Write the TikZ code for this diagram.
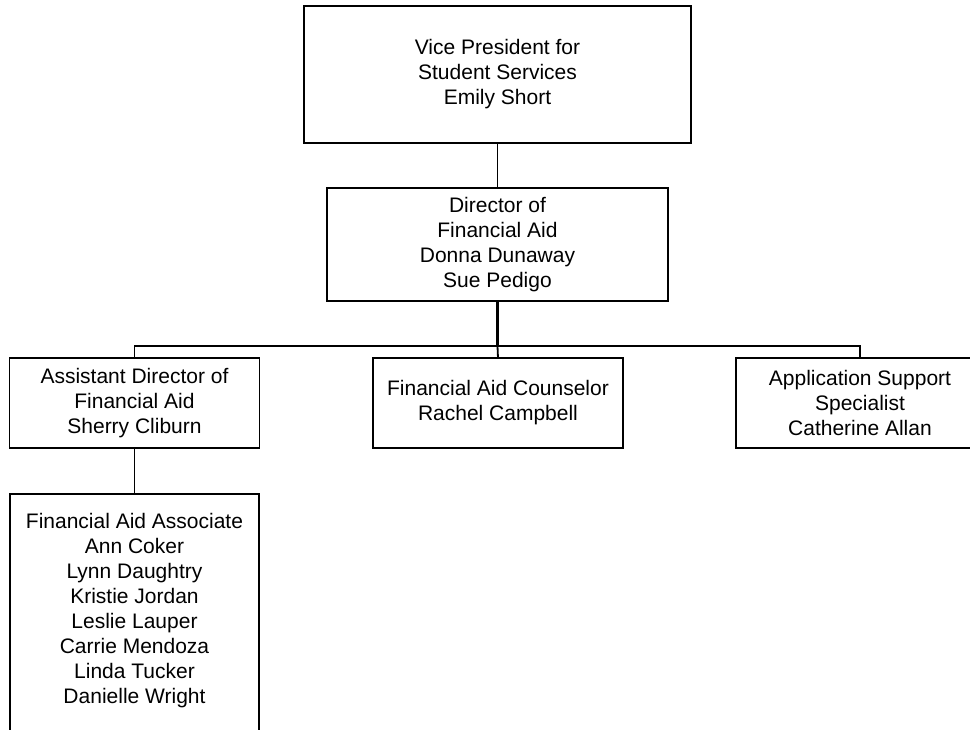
\documentclass[tikz,border=0pt]{standalone}
\usepackage{fontspec}
\setmainfont{Liberation Sans}
\begin{document}
\begin{tikzpicture}[x=1pt,y=-1pt,
  box/.style={draw, line width=1.8pt, inner sep=0pt, outer sep=0pt, align=center,
    font=\fontsize{21}{25}\selectfont},
  lbl/.style={inner sep=0pt, align=center, font=\fontsize{21}{25}\selectfont},
  conn/.style={line width=1.8pt}]
\useasboundingbox (0,0) rectangle (970,730);
\clip (0,0) rectangle (970,730);
\fill[white] (0,0) rectangle (970,730);
\node[box, minimum width=387pt, minimum height=137pt] (vp) at (497.5,74.5)
  {Vice President for\\Student Services\\Emily Short};
\node[box, minimum width=341pt, minimum height=113pt] (dir) at (497.5,244.5)
  {Director of\\Financial Aid\\Donna Dunaway\\Sue Pedigo};
\node[box, minimum width=250pt, minimum height=90pt] (asst) at (134.5,403)
  {Assistant Director of\\Financial Aid\\Sherry Cliburn};
\node[box, minimum width=250pt, minimum height=90pt] (couns) at (498,403)
  {Financial Aid Counselor\\Rachel Campbell};
\node[box, minimum width=248pt, minimum height=90pt] (spec) at (860,403)
  {Application Support\\Specialist\\Catherine Allan};
\node[box, minimum width=249pt, minimum height=300pt, anchor=north] (assocbox) at (134.5,494) {};
\node[lbl] (assoc) at (134.5,611)
  {Financial Aid Associate\\Ann Coker\\Lynn Daughtry\\Kristie Jordan\\Leslie Lauper\\Carrie Mendoza\\Linda Tucker\\Danielle Wright};
\coordinate (bus) at (497.5,346);
\draw[conn] (vp.south) -- (dir.north);
\draw[line width=2.4pt] (dir.south) -- (bus);
\draw[conn] (asst.north) |- (bus) -| (spec.north);
\draw[conn] (bus) -- (couns.north);
\draw[conn] (asst.south) -- (assocbox.north);
\end{tikzpicture}
\end{document}
